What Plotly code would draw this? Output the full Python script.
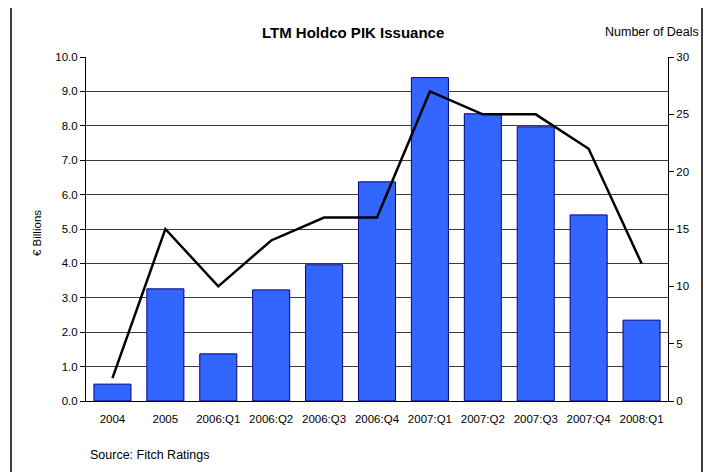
import plotly.graph_objects as go

categories = ["2004", "2005", "2006:Q1", "2006:Q2", "2006:Q3", "2006:Q4",
              "2007:Q1", "2007:Q2", "2007:Q3", "2007:Q4", "2008:Q1"]
issuance_bn = [0.49, 3.26, 1.37, 3.23, 3.96, 6.37, 9.40, 8.35, 7.97, 5.41, 2.35]
num_deals = [2, 15, 10, 14, 16, 16, 27, 25, 25, 22, 12]
left_ticks = [0, 1, 2, 3, 4, 5, 6, 7, 8, 9, 10]
right_ticks = [0, 5, 10, 15, 20, 25, 30]

# page body has an 8px margin: work in screen coords, shift by OFF
OFF = 8
W, H = 714, 472
L, T = 86 - OFF, 57 - OFF
pw, ph = 582, 344
R, B = W - L - pw, H - T - ph

xpos = list(range(len(categories)))
font = "Liberation Sans, Arial, sans-serif"

fig = go.Figure()
fig.add_trace(go.Bar(
    x=xpos, y=issuance_bn, width=0.7,
    marker=dict(color="#3366FF", line=dict(color="#000080", width=1)),
    yaxis="y", xaxis="x", showlegend=False,
))
fig.add_trace(go.Scatter(
    x=xpos, y=num_deals, mode="lines",
    line=dict(color="black", width=2.5),
    yaxis="y2", xaxis="x", showlegend=False,
))

xr = [-0.5, len(categories) - 0.5]
fig.update_layout(
    width=W, height=H,
    margin=dict(l=L, r=R, t=T, b=B, pad=0),
    paper_bgcolor="white", plot_bgcolor="white",
    font=dict(family=font, size=12, color="black"),
    bargap=0.3,
    xaxis=dict(
        range=xr, tickvals=xpos, ticktext=categories, ticks="",
        showgrid=False, zeroline=False, showline=True, linecolor="black",
        linewidth=1, tickfont=dict(size=11.5), fixedrange=True,
        ticklabelstandoff=7,
    ),
    xaxis2=dict(
        range=xr, overlaying="x", side="bottom", anchor="y",
        tickvals=[-0.5, 3.5, 7.5], ticks="outside", ticklen=4,
        tickcolor="black", showticklabels=False, showgrid=False,
        zeroline=False, showline=False,
    ),
    yaxis=dict(
        range=[0, 10], tickvals=left_ticks,
        ticktext=[f"{v:.1f}" for v in left_ticks],
        ticks="outside", ticklen=5, tickcolor="black",
        showgrid=True, gridcolor="#3a3a3a", gridwidth=1,
        zeroline=False, showline=True, linecolor="black", linewidth=1,
        tickfont=dict(size=11.5),
    ),
    yaxis2=dict(
        range=[0, 30], tickvals=right_ticks, overlaying="y", side="right",
        ticks="outside", ticklen=5, tickcolor="black", showgrid=False,
        zeroline=False, showline=True, linecolor="black", linewidth=1,
        tickfont=dict(size=11.5),
    ),
)

def px_x(x):
    return (x - OFF - L) / pw

def px_y(y):
    return (T + ph - (y - OFF)) / ph

fig.add_annotation(text="<b>LTM Holdco PIK Issuance</b>", x=px_x(353), y=px_y(32),
                   xref="paper", yref="paper", showarrow=False,
                   font=dict(size=15), xanchor="center", yanchor="middle")
fig.add_annotation(text="Number of Deals", x=px_x(701), y=px_y(32),
                   xref="paper", yref="paper", showarrow=False,
                   font=dict(size=12.5), xanchor="right", yanchor="middle")
fig.add_annotation(text="€ Billions", x=px_x(37), y=px_y(233), textangle=-90,
                   xref="paper", yref="paper", showarrow=False,
                   font=dict(size=11.5), xanchor="center", yanchor="middle")
fig.add_annotation(text="Source: Fitch Ratings", x=px_x(88), y=px_y(455),
                   xref="paper", yref="paper", showarrow=False,
                   font=dict(size=12.5), xanchor="left", yanchor="middle")

# outer frame (left, top, right)
fx0, fx1 = px_x(11), px_x(702)
fy0, fy1 = px_y(495), px_y(5)
fig.add_shape(type="path",
              path=f"M {fx0} {fy0} L {fx0} {fy1} L {fx1} {fy1} L {fx1} {fy0}",
              xref="paper", yref="paper", line=dict(color="black", width=1.5))

fig.write_html("out.html")
